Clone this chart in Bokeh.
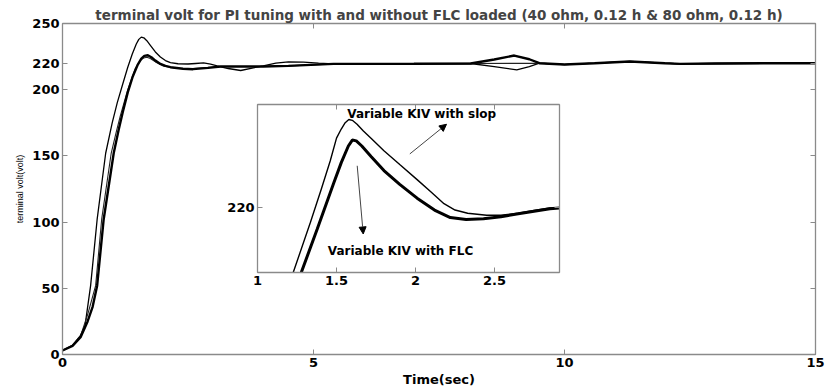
from bokeh.plotting import figure
from bokeh.models import (LinearAxis, FixedTicker, Range1d, Label, Arrow, NormalHead,
                          GridBox, CustomJSTickFormatter)
from bokeh.embed import file_html
from bokeh.resources import INLINE

# ---------------- data ----------------
TITLE = "terminal volt for PI tuning with and without FLC loaded (40 ohm, 0.12 h & 80 ohm, 0.12 h)"
X_LABEL = "Time(sec)"
Y_LABEL = "terminal volt(volt)"
x_ticks = [0, 5, 10, 15]
y_ticks = [0, 50, 100, 150, 200, 220, 250]

# variable KIV with slop (thin, early rise, high overshoot)
t_slop = [0, 0.2, 0.36, 0.45, 0.56, 0.69, 0.86, 0.99, 1.09, 1.19, 1.3, 1.39, 1.47, 1.52, 1.57,
          1.62, 1.68, 1.75, 1.85, 1.95, 2.05, 2.15, 2.3, 2.5, 2.65, 2.81, 2.95, 3.08, 3.3, 3.55,
          3.8, 4.0, 4.25, 4.5, 4.8, 5.1, 5.4, 6.0, 7.0, 8.13, 8.6, 9.05, 9.3, 9.5, 10.0, 10.6,
          11.3, 12.0, 12.3, 13.0, 14.0, 15.0]
v_slop = [3, 7, 14.5, 22, 52, 102, 152, 175, 190, 203, 217, 227, 234.5, 238, 239.7,
          239.2, 237, 233.5, 228.5, 224.7, 222, 220.4, 219.6, 219.4, 219.8, 220.2, 219.3, 218, 216, 214.5,
          216.5, 218, 220, 221, 220.8, 220, 219.5, 219.5, 219.6, 219.8, 217.5, 215, 217.5, 220, 219, 220,
          221.3, 220, 219.5, 219.8, 220, 220]

# variable KIV with FLC (thick, later rise, small overshoot)
t_flc = [0, 0.2, 0.36, 0.5, 0.6, 0.69, 0.82, 1.02, 1.12, 1.2, 1.3, 1.4, 1.5, 1.57, 1.63, 1.7,
         1.77, 1.85, 1.95, 2.05, 2.15, 2.4, 2.6, 2.9, 3.15, 3.55, 4.0, 4.5, 5.4, 6.0, 7.0, 8.13,
         8.6, 9.0, 9.3, 9.5, 10.0, 10.6, 11.3, 12.0, 12.3, 13.0, 14.0, 15.0]
v_flc = [3, 6.5, 13, 25, 36, 52, 102, 152, 170, 183, 198, 210, 219, 223.5, 225.5, 226,
         224.5, 222, 219.5, 218, 217, 215.8, 215.5, 216.5, 217.5, 217.5, 217.5, 218, 219.5, 219.5, 219.6, 219.8,
         222.8, 225.8, 223, 220, 219, 220, 221.3, 220, 219.5, 219.8, 220, 220]

# PI tuning (thin, between the two during the rise)
t_pi = [0, 0.2, 0.36, 0.5, 0.66, 0.78, 0.97, 1.07, 1.15, 1.3, 1.45, 1.55, 1.62, 1.68, 1.75,
        1.85, 2.0, 2.3, 2.6, 3.0, 3.15, 3.55, 4.0, 4.5, 5.4, 6.0, 7.0, 8.13, 9.5, 10.0, 11.3,
        12.3, 15.0]
v_pi = [3, 6.8, 14, 30, 52, 102, 152, 168, 180, 200, 216, 222, 224, 224.5, 223.5,
        221, 218, 216, 216, 217.2, 217.5, 217.5, 217.5, 218, 219.5, 219.5, 219.6, 219.8, 220, 219, 221.3,
        219.5, 220]

# inset (zoom of the first overshoot)
ins_x_ticks = [1, 1.5, 2, 2.5]
ins_y_ticks = [220]
ti_slop = [1.226, 1.335, 1.403, 1.46, 1.50, 1.53, 1.555, 1.578, 1.60, 1.63, 1.67, 1.72, 1.80,
           1.90, 2.01, 2.10, 2.18, 2.25, 2.33, 2.45, 2.54, 2.65, 2.75, 2.85, 2.911]
vi_slop = [203.5, 216.2, 224.5, 231.7, 237.5, 239.8, 241.4, 242.2, 242.0, 241.0, 239.3, 237.4, 234.3,
           230.8, 227.0, 223.8, 220.9, 219.3, 218.5, 218.0, 218.0, 218.5, 219.2, 219.8, 219.9]
ti_flc = [1.277, 1.378, 1.483, 1.53, 1.575, 1.60, 1.625, 1.66, 1.72, 1.80, 1.90, 2.01, 2.12,
          2.22, 2.32, 2.43, 2.54, 2.64, 2.75, 2.85, 2.911]
vi_flc = [203.5, 214.5, 226.2, 231.3, 235.5, 237.0, 236.8, 235.5, 232.8, 229.3, 225.8, 222.3, 219.3,
          217.4, 216.9, 217.1, 217.6, 218.3, 219.0, 219.6, 219.8]
ann_slop = "Variable KIV with slop"
ann_flc = "Variable KIV with FLC"

# ---------------- styling ----------------
FONT = "DejaVu Sans"
AX_COL = "#8a8a8a"
BORDERS = dict(min_border_left=62, min_border_right=12, min_border_top=23, min_border_bottom=33)
NO_LABELS = CustomJSTickFormatter(code="return ''")


def style_axis(ax, labels=True):
    ax.axis_line_color = AX_COL
    ax.axis_line_width = 1.3
    ax.major_tick_line_color = AX_COL
    ax.major_tick_in = 5
    ax.major_tick_out = 0
    ax.minor_tick_line_color = None
    ax.major_label_text_font = FONT
    ax.major_label_text_font_style = "bold"
    ax.major_label_text_color = "black"
    ax.major_label_text_font_size = "13px"
    ax.major_label_standoff = 3
    if not labels:
        ax.formatter = NO_LABELS
        ax.major_label_standoff = 0


main = figure(width=827, height=389, x_range=Range1d(0, 15), y_range=Range1d(0, 250),
              output_backend="svg", toolbar_location=None, **BORDERS)
main.title.text = TITLE
main.title.align = "center"
main.title.text_font = FONT
main.title.text_font_style = "bold"
main.title.text_font_size = "13.5px"
main.title.standoff = 2
main.grid.visible = False
main.outline_line_color = AX_COL

main.xaxis.ticker = FixedTicker(ticks=x_ticks)
main.yaxis.ticker = FixedTicker(ticks=y_ticks)
style_axis(main.xaxis[0])
style_axis(main.yaxis[0])
main.xaxis.axis_label = X_LABEL
main.xaxis.axis_label_text_font = FONT
main.xaxis.axis_label_text_font_style = "bold"
main.xaxis.axis_label_text_font_size = "13px"
main.xaxis.axis_label_text_color = "black"
main.xaxis.axis_label_standoff = 2
main.yaxis.axis_label = Y_LABEL
main.yaxis.axis_label_text_font = "Liberation Sans"
main.yaxis.axis_label_text_font_style = "normal"
main.yaxis.axis_label_text_font_size = "9px"
main.yaxis.axis_label_text_color = "black"
main.yaxis.axis_label_standoff = 4

top_ax = LinearAxis(ticker=FixedTicker(ticks=x_ticks))
right_ax = LinearAxis(ticker=FixedTicker(ticks=y_ticks))
style_axis(top_ax, labels=False)
style_axis(right_ax, labels=False)
main.add_layout(top_ax, "above")
main.add_layout(right_ax, "right")

main.line(t_slop, v_slop, line_color="black", line_width=1.3)
main.line(t_pi, v_pi, line_color="#222222", line_width=1.1)
main.line(t_flc, v_flc, line_color="black", line_width=2.4)

# ---------------- inset (same borders as the main plot: grid aligns them) ----------------
ins = figure(width=62 + 302 + 12, height=23 + 170 + 33, x_range=Range1d(1, 2.911),
             y_range=Range1d(203.5, 246), output_backend="svg", toolbar_location=None, **BORDERS)
ins.grid.visible = False
ins.outline_line_color = AX_COL
ins.border_fill_alpha = 0
ins.background_fill_color = "white"
ins.xaxis.ticker = FixedTicker(ticks=ins_x_ticks)
ins.yaxis.ticker = FixedTicker(ticks=ins_y_ticks)
ins.xaxis.formatter = CustomJSTickFormatter(code="return String(tick)")
style_axis(ins.xaxis[0])
style_axis(ins.yaxis[0])
ins_top = LinearAxis(ticker=FixedTicker(ticks=ins_x_ticks))
ins_right = LinearAxis(ticker=FixedTicker(ticks=ins_y_ticks))
style_axis(ins_top, labels=False)
style_axis(ins_right, labels=False)
ins.add_layout(ins_top, "above")
ins.add_layout(ins_right, "right")

ins.line(ti_slop, vi_slop, line_color="black", line_width=1.4)
ins.line(ti_flc, vi_flc, line_color="black", line_width=3)

ins.add_layout(Label(x=1.568, y=243.7, text=ann_slop, text_font=FONT, text_font_style="bold",
                     text_font_size="12px", text_baseline="middle", text_color="black"))
ins.add_layout(Label(x=1.445, y=208.9, text=ann_flc, text_font=FONT, text_font_style="bold",
                     text_font_size="12px", text_baseline="middle", text_color="black"))
ins.add_layout(Arrow(x_start=1.964, y_start=233.5, x_end=2.196, y_end=241.0,
                     line_color="#444444", line_width=1,
                     end=NormalHead(size=7, fill_color="black", line_color="black")))
ins.add_layout(Arrow(x_start=1.631, y_start=230.5, x_end=1.669, y_end=213.25,
                     line_color="#444444", line_width=1,
                     end=NormalHead(size=7, fill_color="black", line_color="black")))

ins.margin = (104 - 23, 0, 0, 257 - 62)
main.margin = (0, 0, 0, 0)

layout = GridBox(children=[(main, 0, 0), (ins, 0, 0)])

open("out.html", "w").write(file_html(layout, INLINE))
